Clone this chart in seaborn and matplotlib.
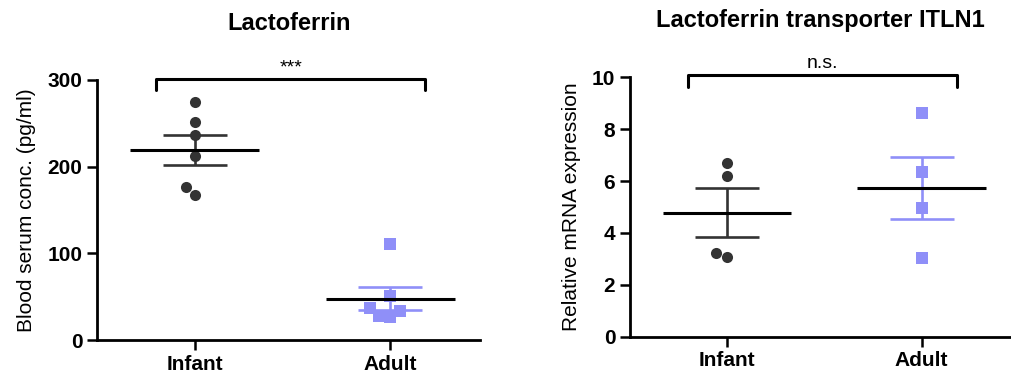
import matplotlib
matplotlib.use("Agg")
import matplotlib.pyplot as plt
import seaborn as sns
import pandas as pd

# Lactoferrin in blood serum (pg/ml)
lacto_infant = [275, 251, 237, 212, 176, 167]
lacto_adult = [111, 51, 37, 26, 28, 33]

# ITLN1 relative mRNA expression
itln_infant = [6.68, 6.19, 3.06, 3.21]
itln_adult = [8.64, 6.35, 4.95, 3.02]

groups = ["Infant", "Adult"]
colors = {"Infant": "#333333", "Adult": "#8f8ff8"}
markers = {"Infant": "o", "Adult": "s"}

sns.set_style("ticks")
plt.rcParams["font.family"] = ["Liberation Sans", "DejaVu Sans"]
plt.rcParams.update({"text.color": "black", "axes.labelcolor": "black",
                     "xtick.color": "black", "ytick.color": "black",
                     "axes.edgecolor": "black"})


def make_df(infant, adult):
    return pd.DataFrame({
        "Group": ["Infant"] * len(infant) + ["Adult"] * len(adult),
        "Value": infant + adult,
    })


def draw_panel(ax, df, title, ylabel, ymax, step, sig, bracket_y):
    stats = df.groupby("Group", sort=False)["Value"].agg(["mean", "sem"])
    # SEM bars
    for i, g in enumerate(groups):
        ax.errorbar(i, stats.loc[g, "mean"], yerr=stats.loc[g, "sem"],
                    color=colors[g], capsize=23, elinewidth=1.9,
                    capthick=1.9, zorder=2)
    # points
    for g in groups:
        sub = df[df["Group"] == g]
        sns.swarmplot(data=sub, x="Group", y="Value", order=groups, ax=ax,
                      color=colors[g], marker=markers[g], size=8,
                      linewidth=0, zorder=3)
    # mean line
    for i, g in enumerate(groups):
        ax.hlines(stats.loc[g, "mean"], i - 0.33, i + 0.33, color="black",
                  lw=2.2, zorder=4)

    ax.set_xlim(-0.5, 1.46)
    ax.set_ylim(0, ymax)
    ax.set_yticks(range(0, ymax + 1, step))
    ax.set_xlabel("")
    ax.set_ylabel(ylabel, fontsize=15, labelpad=8)
    ax.set_title(title, fontsize=17, fontweight="bold", pad=36)
    ax.tick_params(axis="y", labelsize=15, width=1.8, length=7)
    ax.tick_params(axis="x", labelsize=15, width=1.8, length=7)
    plt.setp(ax.get_xticklabels() + ax.get_yticklabels(), fontweight="bold")
    sns.despine(ax=ax)
    for s in ["left", "bottom"]:
        ax.spines[s].set_linewidth(2)

    # significance bracket
    top, low = bracket_y
    ax.plot([-0.2, -0.2, 1.18, 1.18], [low, top, top, low], color="black",
            lw=2.2, clip_on=False)
    ax.text(0.49, top + (top - low) * 0.3, sig, ha="center", va="bottom",
            fontsize=14)


fig = plt.figure(figsize=(10.11, 3.72), dpi=100)
ax1 = fig.add_axes([0.096, 0.086, 0.379, 0.699])
ax2 = fig.add_axes([0.623, 0.095, 0.377, 0.697])

draw_panel(ax1, make_df(lacto_infant, lacto_adult), "Lactoferrin",
           "Blood serum conc. (pg/ml)", 300, 100, "***", (301, 289))
draw_panel(ax2, make_df(itln_infant, itln_adult),
           "Lactoferrin transporter ITLN1", "Relative mRNA expression",
           10, 2, "n.s.", (10.09, 9.64))

fig.savefig("out.png", dpi=100)
